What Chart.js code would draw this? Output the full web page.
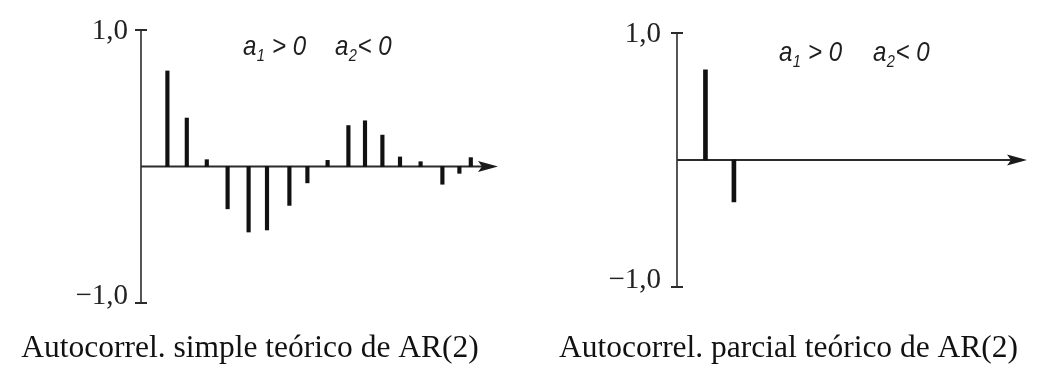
<!DOCTYPE html>
<html>
<head>
<meta charset="utf-8">
<script src="https://cdn.jsdelivr.net/npm/chart.js@4"></script>
<style>
  html, body { margin: 0; padding: 0; background: #fff; }
  #wrap { position: relative; width: 1052px; height: 375px; overflow: hidden; }
  canvas { position: absolute; top: 0; }
</style>
</head>
<body>
<div id="wrap">
  <canvas id="left" width="526" height="375" style="left:0"></canvas>
  <canvas id="right" width="526" height="375" style="left:526px"></canvas>
</div>
<script>
// ---- data ----
const lagsSimple = [1.02, 1.99, 2.99, 4.03, 5.08, 6.0, 7.12, 8.02, 9.03, 10.07, 10.9, 11.77, 12.65, 13.68, 14.77, 15.62, 16.19];
const acfSimple  = [0.70, 0.355, 0.05, -0.31, -0.48, -0.465, -0.285, -0.12, 0.045, 0.30, 0.335, 0.23, 0.07, 0.035, -0.13, -0.05, 0.065];
const lagsPartial = [1, 2];
const pacfPartial = [0.71, -0.33];
const yTickValues = [1, -1];
const yTickLabels = ['1,0', '\u22121,0'];
const annotationLeft  = ['a', '1', ' > 0'];
const annotationRight = ['a', '2', '< 0'];
const captionSimple  = 'Autocorrel. simple teórico de AR(2)';
const captionPartial = 'Autocorrel. parcial teórico de AR(2)';

const serif = '"Liberation Serif", "Times New Roman", serif';
const narrow = '"Liberation Sans Narrow", "Arial Narrow", "Liberation Sans", sans-serif';

function drawPart(ctx, parts, x, base) {
  ctx.save();
  ctx.translate(x, 0);
  ctx.scale(0.86, 1);
  let cx = 0;
  ctx.textAlign = 'left';
  ctx.textBaseline = 'alphabetic';
  ctx.font = 'italic 28px ' + narrow;
  ctx.fillText(parts[0], cx, base); cx += ctx.measureText(parts[0]).width;
  ctx.font = 'italic 17px ' + narrow;
  ctx.fillText(parts[1], cx + 0.5, base + 6); cx += ctx.measureText(parts[1]).width + 1;
  ctx.font = 'italic 28px ' + narrow;
  ctx.fillText(parts[2], cx, base);
  ctx.restore();
}

const acfPlugin = {
  id: 'acfAxes',
  beforeDatasetsDraw(chart, args, o) {
    const { ctx, chartArea: a, scales: { x, y } } = chart;
    const y0 = y.getPixelForValue(0);
    ctx.save();
    ctx.strokeStyle = '#2b2b2b';
    ctx.fillStyle = '#1a1a1a';
    // vertical axis
    ctx.lineWidth = 1.6;
    ctx.beginPath();
    ctx.moveTo(a.left, y.getPixelForValue(1));
    ctx.lineTo(a.left, y.getPixelForValue(-1));
    ctx.stroke();
    // T ticks
    ctx.lineWidth = 2;
    yTickValues.forEach(v => {
      const py = y.getPixelForValue(v);
      ctx.beginPath();
      ctx.moveTo(a.left - 6, py);
      ctx.lineTo(a.left + 6, py);
      ctx.stroke();
    });
    // horizontal axis with arrow
    ctx.lineWidth = 1.8;
    ctx.beginPath();
    ctx.moveTo(a.left, y0);
    ctx.lineTo(a.right - 12, y0);
    ctx.stroke();
    ctx.beginPath();
    ctx.moveTo(a.right, y0);
    ctx.lineTo(a.right - 20, y0 - 5.5);
    ctx.lineTo(a.right - 16, y0);
    ctx.lineTo(a.right - 20, y0 + 5.5);
    ctx.closePath();
    ctx.fill();
    // tick labels
    ctx.fillStyle = '#222';
    ctx.font = '29px ' + serif;
    ctx.textAlign = 'right';
    yTickValues.forEach((v, i) => {
      const py = y.getPixelForValue(v);
      ctx.textBaseline = v > 0 ? 'middle' : 'alphabetic';
      ctx.fillText(yTickLabels[i], a.left - o.labelGap, py + 1);
    });
    ctx.restore();
  },
  afterDraw(chart, args, o) {
    const { ctx } = chart;
    ctx.save();
    ctx.fillStyle = '#1e1e1e';
    drawPart(ctx, o.anno1, o.annoX1, o.annoBase);
    drawPart(ctx, o.anno2, o.annoX2, o.annoBase);
    ctx.fillStyle = '#111';
    ctx.font = '31.5px ' + serif;
    ctx.textAlign = 'center';
    ctx.textBaseline = 'alphabetic';
    ctx.fillText(o.caption, o.captionX, 357);
    ctx.restore();
  }
};

function makeChart(id, lags, vals, xMax, xMin, pad, thick, opts) {
  return new Chart(document.getElementById(id), {
    type: 'bar',
    data: {
      datasets: [{
        data: lags.map((l, i) => ({ x: l, y: vals[i] })),
        backgroundColor: '#111',
        borderWidth: 0,
        barThickness: thick
      }]
    },
    options: {
      responsive: false,
      animation: false,
      events: [],
      layout: { padding: pad },
      scales: {
        x: { type: 'linear', min: xMin, max: xMax, offset: false, display: false },
        y: { min: -1, max: 1, display: false }
      },
      plugins: {
        legend: { display: false },
        tooltip: { enabled: false },
        acfAxes: opts
      }
    },
    plugins: [acfPlugin]
  });
}

makeChart('left', lagsSimple, acfSimple, 17.55, -0.3,
  { left: 141, right: 28, top: 30, bottom: 72 }, 3.5,
  { labelGap: 13, anno1: annotationLeft, anno2: annotationRight, annoX1: 243, annoX2: 335, annoBase: 55,
    caption: captionSimple, captionX: 250 });

makeChart('right', lagsPartial, pacfPartial, 12.3, 0,
  { left: 151, right: 25, top: 33, bottom: 88 }, 4,
  { labelGap: 16, anno1: annotationLeft, anno2: annotationRight, annoX1: 253, annoX2: 347, annoBase: 61,
    caption: captionPartial, captionX: 262.5 });
</script>
</body>
</html>
